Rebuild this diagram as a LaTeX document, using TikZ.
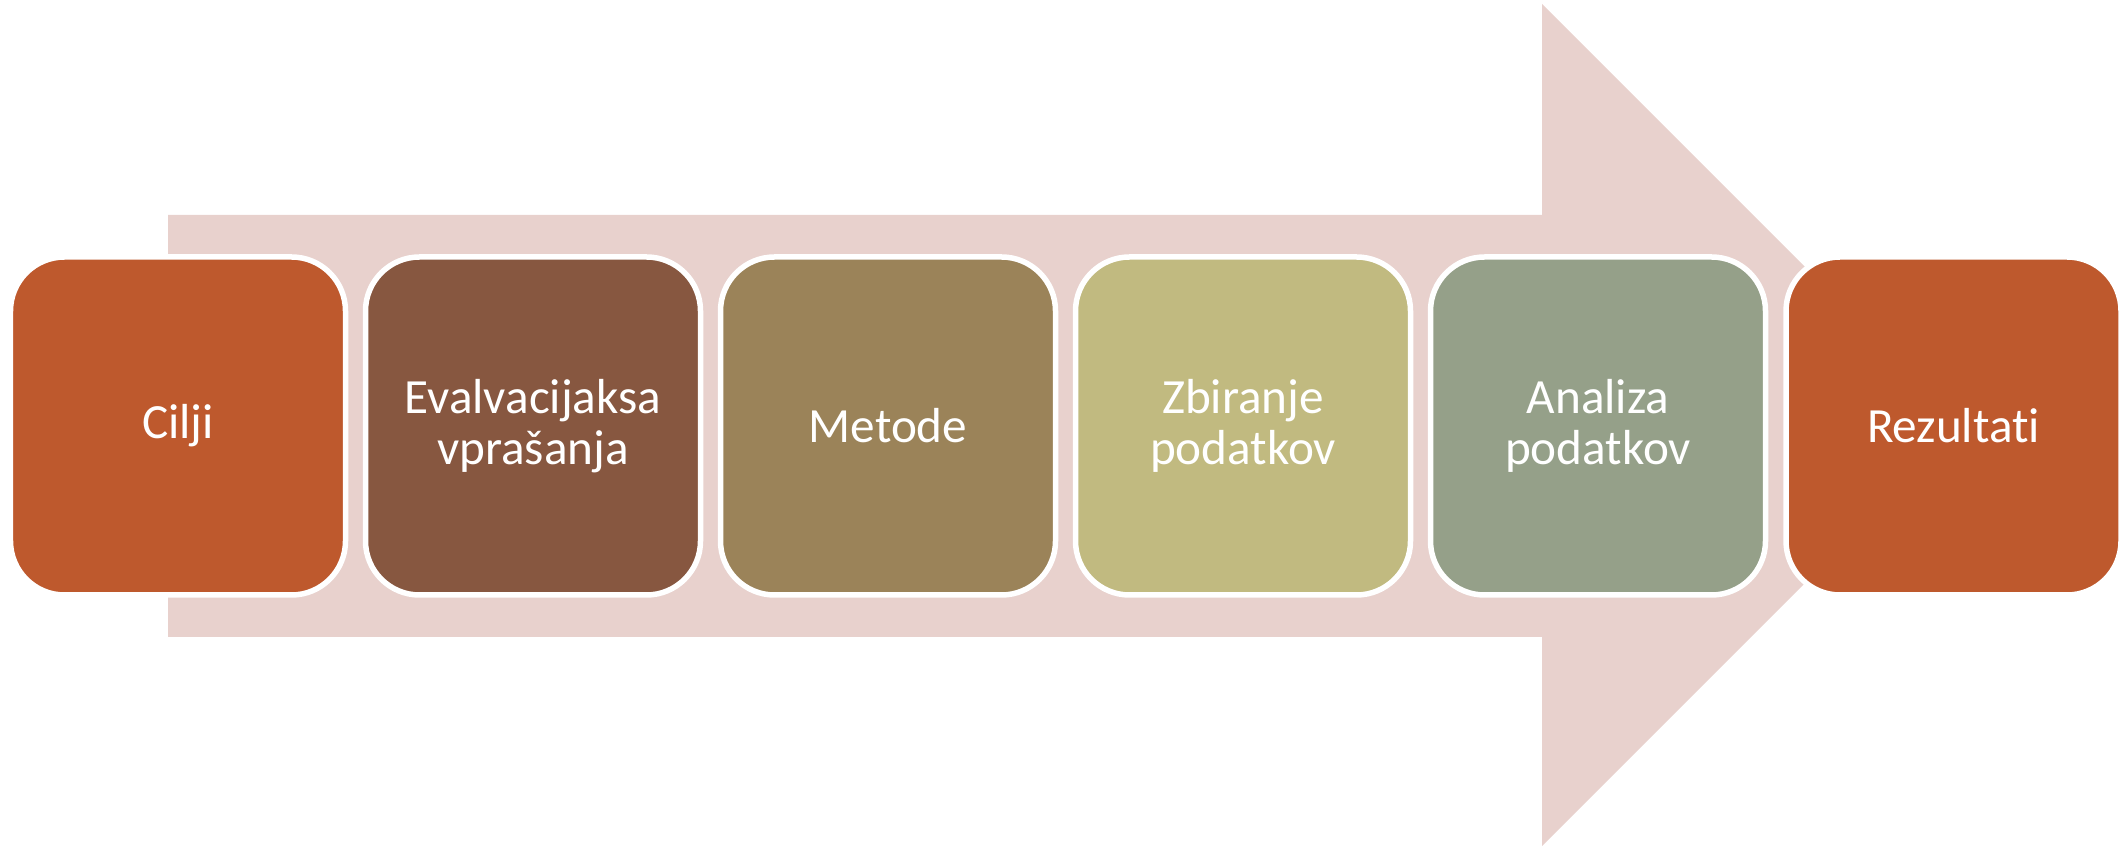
\documentclass[tikz,border=0pt]{standalone}
\usepackage{fontspec}
\setmainfont{Carlito}[Ligatures={NoCommon,NoContextual}]

\definecolor{arrowpink}{RGB}{232,209,205}
\definecolor{rust}{RGB}{190,89,45}
\definecolor{cocoa}{RGB}{135,87,64}
\definecolor{khaki}{RGB}{155,131,89}
\definecolor{straw}{RGB}{193,186,128}
\definecolor{sage}{RGB}{149,160,137}

\tikzset{
  stepbox/.style={rounded corners=0.54cm, draw=white, line width=0.055cm,
    minimum width=3.35cm, minimum height=3.38cm, inner sep=0pt,
    text=white, align=center, font=\fontsize{14}{14.7}\selectfont}
}

\begin{document}
\begin{tikzpicture}
        \useasboundingbox (0,0) rectangle (21.19,8.46);

        % big arrow behind the steps
        \fill [arrowpink] (1.68,2.09) -- (1.68,6.31) -- (15.42,6.31) -- (15.42,8.42)
              -- (19.63,4.21) -- (15.42,0) -- (15.42,2.09) -- cycle;

        \node [stepbox, fill=rust]  (cilji)    at (1.78, 4.20)  {Cilji};
        \node [stepbox, fill=cocoa] (vprasanja) at (5.33, 4.20) {Evalvacijaksa\\vprašanja};
        \node [stepbox, fill=khaki] (metode)   at (8.88, 4.20)  {Metode};
        \node [stepbox, fill=straw] (zbiranje) at (12.43, 4.20) {Zbiranje\\podatkov};
        \node [stepbox, fill=sage]  (analiza)  at (15.98, 4.20) {Analiza\\podatkov};
        \node [stepbox, fill=rust]  (rezultati) at (19.535, 4.20) {Rezultati};
      \end{tikzpicture}
\end{document}
